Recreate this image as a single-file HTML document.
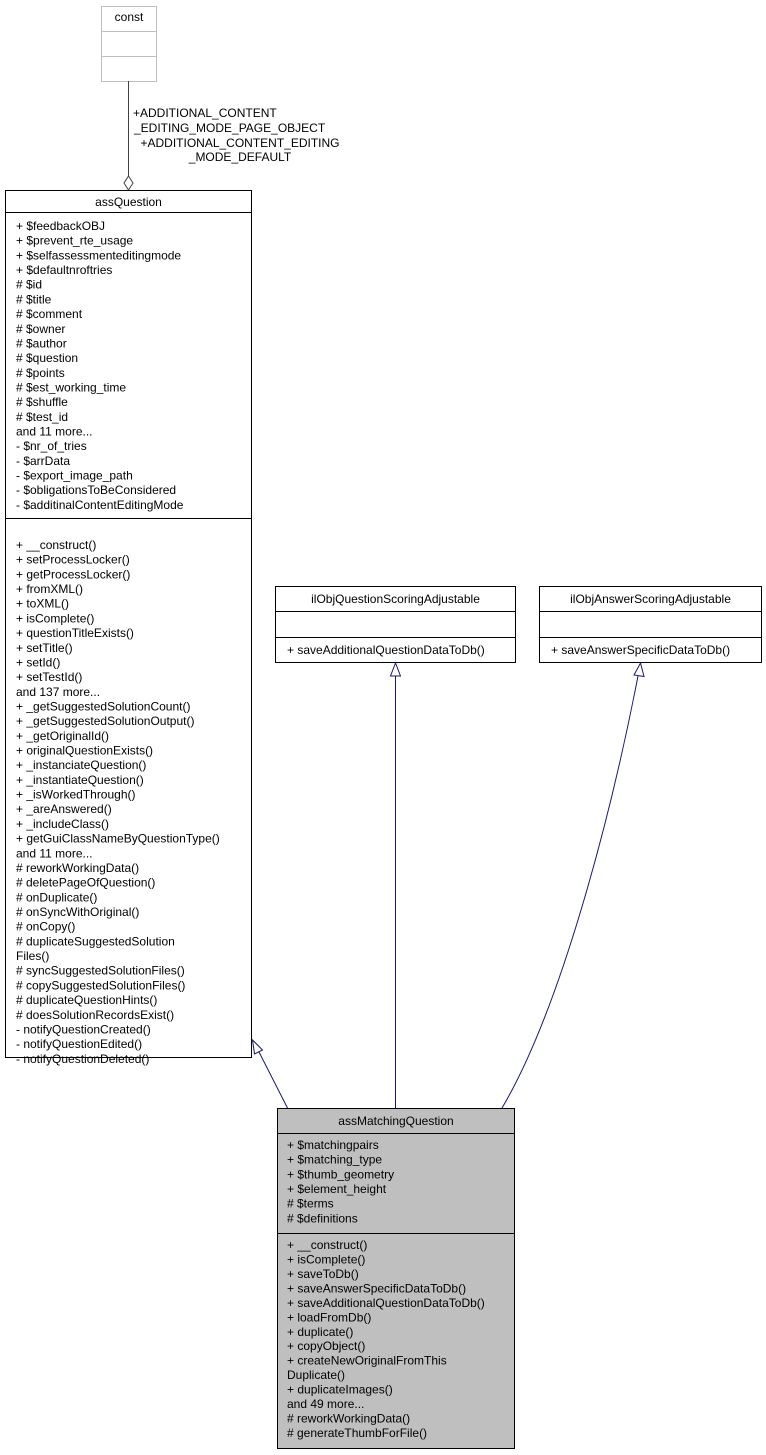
<!DOCTYPE html>
<html><head><meta charset="utf-8"><style>
html,body{margin:0;padding:0;background:#fff;}
svg{display:block;}
text{font-family:"Liberation Sans",sans-serif;font-size:12px;fill:#000;}
</style></head><body>
<svg width="766" height="1455" viewBox="0 0 766 1455" xmlns="http://www.w3.org/2000/svg">
<!-- const -->
<rect x="101.5" y="6.5" width="55" height="75" fill="#fff" stroke="#bfbfbf"/>
<line x1="101.5" y1="31.5" x2="156.5" y2="31.5" stroke="#bfbfbf"/>
<line x1="101.5" y1="56.5" x2="156.5" y2="56.5" stroke="#bfbfbf"/>
<text x="129" y="21" text-anchor="middle">const</text>
<!-- aggregation edge -->
<line x1="128.5" y1="81" x2="128.5" y2="176" stroke="#404040"/>
<polygon points="128.5,176 133,183 128.5,190 124,183" fill="#fff" stroke="#404040"/>
<text x="133" y="117">+ADDITIONAL_CONTENT</text>
<text x="134" y="132">_EDITING_MODE_PAGE_OBJECT</text>
<text x="240" y="147" text-anchor="middle">+ADDITIONAL_CONTENT_EDITING</text>
<text x="240" y="161" text-anchor="middle">_MODE_DEFAULT</text>

<!-- assQuestion -->
<rect x="5.5" y="190.5" width="246" height="867" fill="#fff" stroke="#000"/>
<line x1="5.5" y1="212.5" x2="251.5" y2="212.5" stroke="#000"/>
<line x1="5.5" y1="518.5" x2="251.5" y2="518.5" stroke="#000"/>
<text x="128.5" y="206" text-anchor="middle">assQuestion</text>
<g transform="translate(16,230)">
<text y="0">+ $feedbackOBJ</text>
<text y="14.68">+ $prevent_rte_usage</text>
<text y="29.36">+ $selfassessmenteditingmode</text>
<text y="44.04">+ $defaultnroftries</text>
<text y="58.72"># $id</text>
<text y="73.4"># $title</text>
<text y="88.08"># $comment</text>
<text y="102.76"># $owner</text>
<text y="117.44"># $author</text>
<text y="132.12"># $question</text>
<text y="146.8"># $points</text>
<text y="161.48"># $est_working_time</text>
<text y="176.16"># $shuffle</text>
<text y="190.84"># $test_id</text>
<text y="205.52">and 11 more...</text>
<text y="220.2">- $nr_of_tries</text>
<text y="234.88">- $arrData</text>
<text y="249.56">- $export_image_path</text>
<text y="264.24">- $obligationsToBeConsidered</text>
<text y="278.92">- $additinalContentEditingMode</text>
</g>
<g transform="translate(16,549)">
<text y="0">+ __construct()</text>
<text y="14.68">+ setProcessLocker()</text>
<text y="29.36">+ getProcessLocker()</text>
<text y="44.04">+ fromXML()</text>
<text y="58.72">+ toXML()</text>
<text y="73.4">+ isComplete()</text>
<text y="88.08">+ questionTitleExists()</text>
<text y="102.76">+ setTitle()</text>
<text y="117.44">+ setId()</text>
<text y="132.12">+ setTestId()</text>
<text y="146.8">and 137 more...</text>
<text y="161.48">+ _getSuggestedSolutionCount()</text>
<text y="176.16">+ _getSuggestedSolutionOutput()</text>
<text y="190.84">+ _getOriginalId()</text>
<text y="205.52">+ originalQuestionExists()</text>
<text y="220.2">+ _instanciateQuestion()</text>
<text y="234.88">+ _instantiateQuestion()</text>
<text y="249.56">+ _isWorkedThrough()</text>
<text y="264.24">+ _areAnswered()</text>
<text y="278.92">+ _includeClass()</text>
<text y="293.6">+ getGuiClassNameByQuestionType()</text>
<text y="308.28">and 11 more...</text>
<text y="322.96"># reworkWorkingData()</text>
<text y="337.64"># deletePageOfQuestion()</text>
<text y="352.32"># onDuplicate()</text>
<text y="367"># onSyncWithOriginal()</text>
<text y="381.68"># onCopy()</text>
<text y="396.36"># duplicateSuggestedSolution</text>
<text y="411.04">Files()</text>
<text y="425.72"># syncSuggestedSolutionFiles()</text>
<text y="440.4"># copySuggestedSolutionFiles()</text>
<text y="455.08"># duplicateQuestionHints()</text>
<text y="469.76"># doesSolutionRecordsExist()</text>
<text y="484.44">- notifyQuestionCreated()</text>
<text y="499.12">- notifyQuestionEdited()</text>
<text y="513.8">- notifyQuestionDeleted()</text>
</g>

<!-- ilObjQuestionScoringAdjustable -->
<rect x="275.5" y="586.5" width="240" height="76" fill="#fff" stroke="#000"/>
<line x1="275.5" y1="611.5" x2="515.5" y2="611.5" stroke="#000"/>
<line x1="275.5" y1="637.5" x2="515.5" y2="637.5" stroke="#000"/>
<text x="395.5" y="603" text-anchor="middle">ilObjQuestionScoringAdjustable</text>
<text x="287" y="654">+ saveAdditionalQuestionDataToDb()</text>

<!-- ilObjAnswerScoringAdjustable -->
<rect x="539.5" y="586.5" width="222" height="76" fill="#fff" stroke="#000"/>
<line x1="539.5" y1="611.5" x2="761.5" y2="611.5" stroke="#000"/>
<line x1="539.5" y1="637.5" x2="761.5" y2="637.5" stroke="#000"/>
<text x="650.5" y="603" text-anchor="middle">ilObjAnswerScoringAdjustable</text>
<text x="551" y="654">+ saveAnswerSpecificDataToDb()</text>

<!-- inheritance edges -->
<g stroke="#191970" fill="none">
<line x1="287.5" y1="1108" x2="259" y2="1052"/>
<polygon points="252.5,1040 262.5,1050 254.5,1054" fill="#fff"/>
<line x1="395.5" y1="1108" x2="395.5" y2="676"/>
<polygon points="395.5,663 400.5,676 390.5,676" fill="#fff"/>
<path d="M502,1108 C560,1010 610,820 638,676"/>
<polygon points="640.5,663 644,676.5 634,675" fill="#fff"/>
</g>

<!-- assMatchingQuestion -->
<rect x="277.5" y="1108.5" width="237" height="340" fill="#bfbfbf" stroke="#000"/>
<line x1="277.5" y1="1133.5" x2="514.5" y2="1133.5" stroke="#000"/>
<line x1="277.5" y1="1233.5" x2="514.5" y2="1233.5" stroke="#000"/>
<text x="396" y="1125" text-anchor="middle">assMatchingQuestion</text>
<g transform="translate(287,1149)">
<text y="0">+ $matchingpairs</text>
<text y="14.68">+ $matching_type</text>
<text y="29.36">+ $thumb_geometry</text>
<text y="44.04">+ $element_height</text>
<text y="58.72"># $terms</text>
<text y="73.4"># $definitions</text>
</g>
<g transform="translate(287,1249)">
<text y="0">+ __construct()</text>
<text y="14.46">+ isComplete()</text>
<text y="28.92">+ saveToDb()</text>
<text y="43.38">+ saveAnswerSpecificDataToDb()</text>
<text y="57.84">+ saveAdditionalQuestionDataToDb()</text>
<text y="72.3">+ loadFromDb()</text>
<text y="86.76">+ duplicate()</text>
<text y="101.22">+ copyObject()</text>
<text y="115.68">+ createNewOriginalFromThis</text>
<text y="130.14">Duplicate()</text>
<text y="144.6">+ duplicateImages()</text>
<text y="159.06">and 49 more...</text>
<text y="173.52"># reworkWorkingData()</text>
<text y="187.98"># generateThumbForFile()</text>
</g>
</svg>
</body></html>
